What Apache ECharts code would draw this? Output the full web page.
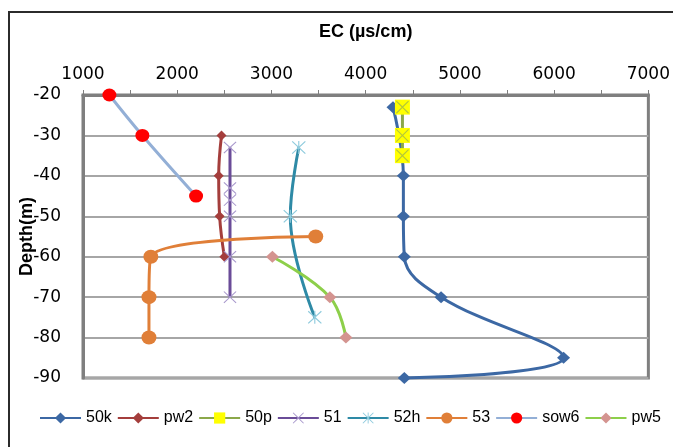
<!DOCTYPE html>
<html>
<head>
<meta charset="utf-8">
<script src="https://cdn.jsdelivr.net/npm/echarts@6/dist/echarts.min.js"></script>
<style>
  html, body { margin: 0; padding: 0; background: #fff; }
  #chart { width: 673px; height: 447px; }
</style>
</head>
<body>
<div id="chart"></div>
<script>
// EC (µs/cm) vs depth (m), one [ec, depth] pair per point
const names = ['50k', 'pw2', '50p', '51', '52h', '53', 'sow6', 'pw5'];
const s50k = [[4290, -23], [4400, -40], [4400, -50], [4410, -60], [4800, -70], [6100, -85], [4410, -90]];
const pw2 = [[2470, -30], [2440, -40], [2450, -50], [2500, -60]];
const s50p = [[4390, -23], [4390, -30], [4390, -35]];
const s51 = [[2560, -33], [2560, -43], [2560, -46], [2560, -50], [2560, -60], [2560, -70]];
const s52h = [[3290, -33], [3200, -50], [3460, -75]];
const s53 = [[3470, -55], [1720, -60], [1700, -70], [1700, -80]];
const sow6 = [[1280, -20], [1630, -30], [2200, -45]];
const pw5 = [[3010, -60], [3620, -70], [3790, -80]];
const xTickLabels = [1000, 2000, 3000, 4000, 5000, 6000, 7000];
const yTickLabels = [-20, -30, -40, -50, -60, -70, -80, -90];

const crossPath = 'path://M0,0.6L0.6,0L5,4.4L9.4,0L10,0.6L5.6,5L10,9.4L9.4,10L5,5.6L0.6,10L0,9.4L4.4,5Z';
const starPath = crossPath.replace('Z', 'ZM4.6,0L5.4,0L5.4,10L4.6,10Z');

const chart = echarts.init(document.getElementById('chart'));

function lineSeries(name, data, lineColor, symbol, size, markColor) {
  return {
    name: name,
    type: 'line',
    data: data,
    smooth: 0.4,
    symbol: symbol,
    symbolSize: size,
    showAllSymbol: true,
    clip: false,
    lineStyle: { color: lineColor, width: 3 },
    itemStyle: { color: markColor || lineColor },
    emphasis: { disabled: true }
  };
}

const option = {
  animation: false,
  textStyle: { fontFamily: 'Liberation Sans' },
  graphic: [{
    type: 'rect',
    shape: { x: 9, y: 12, width: 700, height: 460 },
    style: { fill: null, stroke: '#2b2b2b', lineWidth: 2 },
    z: 0
  }],
  grid: {
    left: 83,
    right: 22,
    top: 95,
    bottom: 69,
    show: true,
    borderColor: '#7f7f7f',
    borderWidth: 3
  },
  legend: {
    data: names,
    left: 39,
    top: 410,
    width: 640,
    padding: 0,
    itemWidth: 41,
    itemHeight: 14,
    itemGap: 5,
    textStyle: { fontFamily: 'Liberation Sans', fontSize: 16, color: '#000' }
  },
  xAxis: {
    type: 'value',
    position: 'top',
    min: 1000,
    max: 7000,
    interval: 500,
    name: 'EC (µs/cm)',
    nameLocation: 'middle',
    nameGap: 54,
    nameMoveOverlap: false,
    nameTextStyle: { fontFamily: 'Liberation Sans', fontSize: 18, fontWeight: 'bold', color: '#000' },
    axisLine: { show: true, lineStyle: { color: '#7f7f7f', width: 3 } },
    axisTick: { show: true, length: 5, lineStyle: { color: '#7f7f7f', width: 1 } },
    axisLabel: {
      margin: 12,
      fontFamily: 'DejaVu Sans',
      fontSize: 17,
      color: '#000',
      formatter: v => xTickLabels.includes(v) ? String(v) : ''
    },
    splitLine: { show: false }
  },
  yAxis: {
    type: 'value',
    min: -90,
    max: -20,
    interval: 10,
    name: 'Depth(m)',
    nameLocation: 'middle',
    nameGap: 47,
    nameMoveOverlap: false,
    nameTextStyle: { fontFamily: 'Liberation Sans', fontSize: 18, fontWeight: 'bold', color: '#000' },
    axisLine: { show: true, lineStyle: { color: '#7f7f7f', width: 3 } },
    axisTick: { show: false },
    axisLabel: {
      margin: 22,
      fontFamily: 'DejaVu Sans',
      fontSize: 17,
      color: '#000',
      formatter: v => yTickLabels.includes(v) ? String(v) : ''
    },
    splitLine: { show: true, lineStyle: { color: '#a6a6a6', width: 2 } }
  },
  series: [
    lineSeries('50k', s50k, '#3c68a4', 'diamond', [13, 12]),
    lineSeries('pw2', pw2, '#a43e3c', 'diamond', [10, 10]),
    lineSeries('50p', s50p, '#8ba84a', 'rect', [15, 15], '#ffff00'),
    {
      name: '50p-x',
      type: 'scatter',
      data: s50p,
      symbol: crossPath,
      symbolSize: [13, 13],
      itemStyle: { color: '#9fb84a' },
      emphasis: { disabled: true },
      z: 3
    },
    lineSeries('51', s51, '#6a4c98', crossPath, [13, 12], '#a898cc'),
    lineSeries('52h', s52h, '#2e8aa6', starPath, [14, 13], '#8fcbdd'),
    lineSeries('53', s53, '#e07f38', 'circle', [15, 14]),
    lineSeries('sow6', sow6, '#93afd6', 'circle', [14, 13], '#ff0000'),
    lineSeries('pw5', pw5, '#8dcf4a', 'diamond', [13, 12], '#d49490')
  ]
};

chart.setOption(option);
</script>
</body>
</html>
